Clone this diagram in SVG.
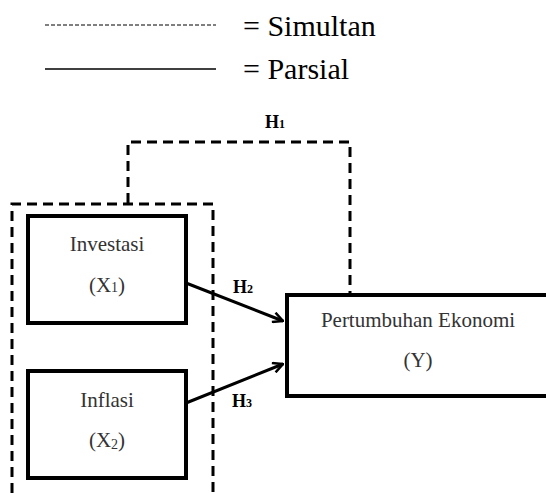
<svg xmlns="http://www.w3.org/2000/svg" width="546" height="493" viewBox="0 0 546 493">
<style>
text{font-family:'Liberation Serif','Times New Roman',Times,serif}
.dash{fill:none;stroke:#000;stroke-width:3;stroke-dasharray:10,6}
.box{fill:#fff;stroke:#000;stroke-width:4}
.nt{font-size:21px;fill:#333;text-anchor:middle}
.lg{font-size:30px;fill:#000}
.h{font-size:18px;font-weight:bold;fill:#000}
.arr{fill:none;stroke:#000;stroke-width:3}
</style>
<defs>
<marker id="ah" viewBox="0 0 12 12" refX="11" refY="6" markerWidth="12" markerHeight="12" markerUnits="userSpaceOnUse" orient="auto">
<path d="M1,1 L11,6 L1,11" fill="none" stroke="#000" stroke-width="2.5"/>
</marker>
</defs>
<g id="legend">
<line x1="45" y1="25" x2="216" y2="25" stroke="#000" stroke-width="1" stroke-dasharray="4,2"/>
<line x1="45" y1="69" x2="216" y2="69" stroke="#000" stroke-width="1.5"/>
<text class="lg" x="243" y="36">= Simultan</text>
<text class="lg" x="243" y="79">= Parsial</text>
</g>
<g id="connectors">
<path class="dash" d="M128,203 V142 H350 V293"/>
<path class="dash" d="M12,493 V204 H213 V493"/>
<line class="arr" x1="186" y1="283" x2="283" y2="321" marker-end="url(#ah)"/>
<line class="arr" x1="186" y1="403" x2="283" y2="364" marker-end="url(#ah)"/>
<text class="h" x="265" y="128">H<tspan font-size="12">1</tspan></text>
<text class="h" x="233" y="293">H<tspan font-size="12">2</tspan></text>
<text class="h" x="232" y="407">H<tspan font-size="12">3</tspan></text>
</g>
<g id="investasi">
<rect class="box" x="28" y="216" width="158" height="107"/>
<text class="nt" x="107" y="251">Investasi</text>
<text class="nt" x="107" y="292">(X<tspan font-size="14">1</tspan>)</text>
</g>
<g id="inflasi">
<rect class="box" x="28" y="371" width="158" height="107"/>
<text class="nt" x="107" y="407">Inflasi</text>
<text class="nt" x="107" y="447">(X<tspan font-size="14" dy="2">2</tspan><tspan dy="-2">)</tspan></text>
</g>
<g id="pertumbuhan">
<rect class="box" x="287" y="295" width="270" height="101"/>
<text class="nt" x="418" y="327">Pertumbuhan Ekonomi</text>
<text class="nt" x="418" y="367">(Y)</text>
</g>
</svg>
